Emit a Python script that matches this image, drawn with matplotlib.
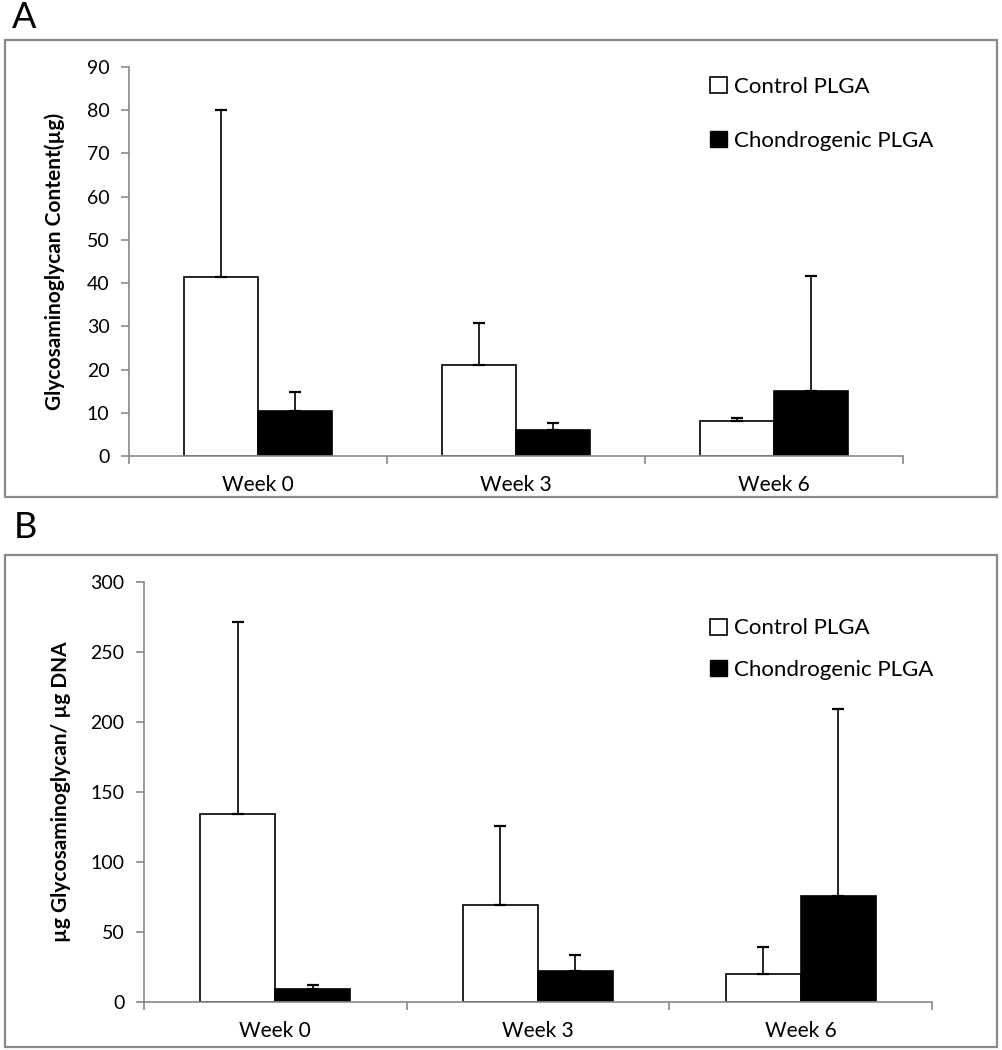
import numpy as np
import matplotlib
matplotlib.use("Agg")
import matplotlib.pyplot as plt
from matplotlib.patches import Rectangle, Patch

plt.rcParams['font.family'] = ['Lato', 'DejaVu Sans']

weeks = ['Week 0', 'Week 3', 'Week 6']
series = ['Control PLGA', 'Chondrogenic PLGA']

# panel A: glycosaminoglycan content (ug)
gag_control = [41.3, 21.0, 8.1]
gag_control_top = [80.1, 30.8, 8.9]
gag_chondro = [10.3, 6.0, 15.1]
gag_chondro_top = [14.9, 7.7, 41.7]

# panel B: ug GAG / ug DNA
ratio_control = [134.3, 69.3, 19.8]
ratio_control_top = [271.5, 126.0, 39.5]
ratio_chondro = [9.3, 22.4, 75.7]
ratio_chondro_top = [12.1, 33.6, 209.5]

GRAY = '#898989'


def draw_panel(ax, ctrl, ctrl_top, chon, chon_top, ymax, ystep, ylabel,
               leg_anchor, leg_spacing, ylab_pad):
    x = np.arange(len(weeks))
    w = 1 / 3.5
    for vals, tops, off, face, lab in [(ctrl, ctrl_top, -w / 2, 'white', series[0]),
                                       (chon, chon_top, w / 2, 'black', series[1])]:
        vals = np.array(vals)
        err = np.array(tops) - vals
        ax.bar(x + off, vals, w, color=face, edgecolor='black', linewidth=1.2,
               label=lab, zorder=2)
        ax.errorbar(x + off, vals, yerr=[np.zeros_like(err), err], fmt='none',
                    ecolor='black', elinewidth=1.2, capsize=4, capthick=1.6,
                    zorder=3)
    ax.set_xlim(-0.5, len(weeks) - 0.5)
    ax.set_ylim(0, ymax)
    ax.set_yticks(np.arange(0, ymax + 1, ystep))
    ax.set_xticks(np.arange(-0.5, len(weeks)), labels=[''] * (len(weeks) + 1))
    ax.set_xticks(x, labels=weeks, minor=True)
    ax.tick_params(axis='x', which='major', direction='out', length=6,
                   color=GRAY, width=1.2)
    ax.tick_params(axis='x', which='minor', length=0, pad=14, labelsize=15)
    ax.tick_params(axis='y', direction='out', length=6, color=GRAY, width=1.2,
                   labelsize=14, pad=8)
    for s in ['top', 'right']:
        ax.spines[s].set_visible(False)
    for s in ['left', 'bottom']:
        ax.spines[s].set_color(GRAY)
        ax.spines[s].set_linewidth(1.2)
    ax.set_ylabel(ylabel, fontsize=15, fontweight='bold', labelpad=ylab_pad)
    handles = [Patch(facecolor='white', edgecolor='black', linewidth=1.2),
               Patch(facecolor='black', edgecolor='black')]
    ax.legend(handles, series, loc='upper left', bbox_to_anchor=leg_anchor,
              bbox_transform=fig.transFigure, frameon=False, fontsize=16,
              handlelength=0.75, handleheight=0.75, handletextpad=0.3,
              labelspacing=leg_spacing, borderpad=0, borderaxespad=0)


fig = plt.figure(figsize=(10.02, 10.5), dpi=100)

axA = fig.add_axes([0.1287, 0.5657, 0.7725, 0.3705])
draw_panel(axA, gag_control, gag_control_top, gag_chondro, gag_chondro_top,
           90, 10, 'Glycosaminoglycan Content(µg)', (0.709, 0.927), 1.55, 16)

axB = fig.add_axes([0.1437, 0.0457, 0.7864, 0.4])
draw_panel(axB, ratio_control, ratio_control_top, ratio_chondro, ratio_chondro_top,
           300, 50, 'µg Glycosaminoglycan/ µg DNA', (0.709, 0.411), 0.95, 14)

# panel frames and letters
for (x0, y0, x1, y1) in [(5, 40, 997, 497), (5, 555, 997, 1047)]:
    fig.patches.append(Rectangle((x0 / 1002, 1 - y1 / 1050), (x1 - x0) / 1002,
                                 (y1 - y0) / 1050, transform=fig.transFigure,
                                 fill=False, edgecolor=GRAY, linewidth=1.6))
fig.text(12 / 1002, 1 - 18 / 1050, 'A', fontsize=26, va='center', ha='left')
fig.text(14 / 1002, 1 - 528 / 1050, 'B', fontsize=26, va='center', ha='left')

fig.savefig('out.png', dpi=100)
